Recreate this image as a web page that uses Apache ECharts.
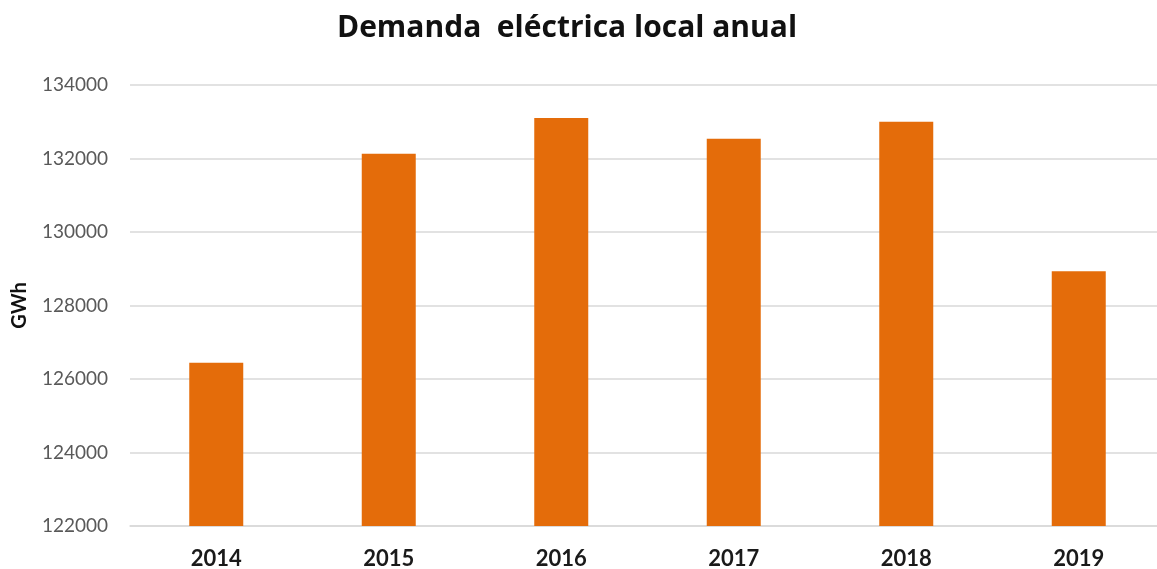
<!DOCTYPE html>
<html>
<head>
<meta charset="utf-8">
<script src="https://cdn.jsdelivr.net/npm/echarts@6/dist/echarts.min.js"></script>
<style>
  html, body { margin: 0; padding: 0; background: #fff; }
  #chart { width: 1157px; height: 569px; }
</style>
</head>
<body>
<div id="chart"></div>
<script>
// Annual local electricity demand (GWh)
const years = ['2014', '2015', '2016', '2017', '2018', '2019'];
const demand = [126440, 132130, 133100, 132540, 133000, 128930];
const yTicks = { min: 122000, max: 134000, step: 2000 };

const chart = echarts.init(document.getElementById('chart'));
chart.setOption({
  backgroundColor: '#ffffff',
  animation: false,
  title: {
    text: 'Demanda  eléctrica local anual',
    left: 562,
    textAlign: 'center',
    top: 8,
    textStyle: { fontFamily: 'Open Sans', fontWeight: 'bold', fontSize: 30, color: '#111111' }
  },
  grid: { left: 130, top: 85, width: 1035, height: 441, outerBoundsMode: 'none', containLabel: false },
  xAxis: {
    type: 'category',
    data: years,
    axisLine: { show: true, lineStyle: { color: '#d9d9d9', width: 1.5 } },
    axisTick: { show: false },
    axisLabel: { fontFamily: 'Lato', fontWeight: 'bold', fontSize: 22, color: '#1a1a1a', margin: 22 }
  },
  yAxis: {
    type: 'value',
    min: yTicks.min,
    max: yTicks.max,
    interval: yTicks.step,
    name: 'GWh',
    nameLocation: 'middle',
    nameRotate: 90,
    nameGap: 100,
    nameTextStyle: { fontFamily: 'Lato', fontWeight: 'bold', fontSize: 20, color: '#111111' },
    axisLine: { show: false },
    axisTick: { show: false },
    axisLabel: {
      fontFamily: 'Lato', fontSize: 19, color: '#595959', margin: 22,
      formatter: (v) => String(v)
    },
    splitLine: { lineStyle: { color: '#d9d9d9', width: 1.5 } }
  },
  series: [{
    type: 'bar',
    data: demand,
    barWidth: 54,
    itemStyle: { color: '#e46c0a' }
  }]
});
</script>
</body>
</html>
